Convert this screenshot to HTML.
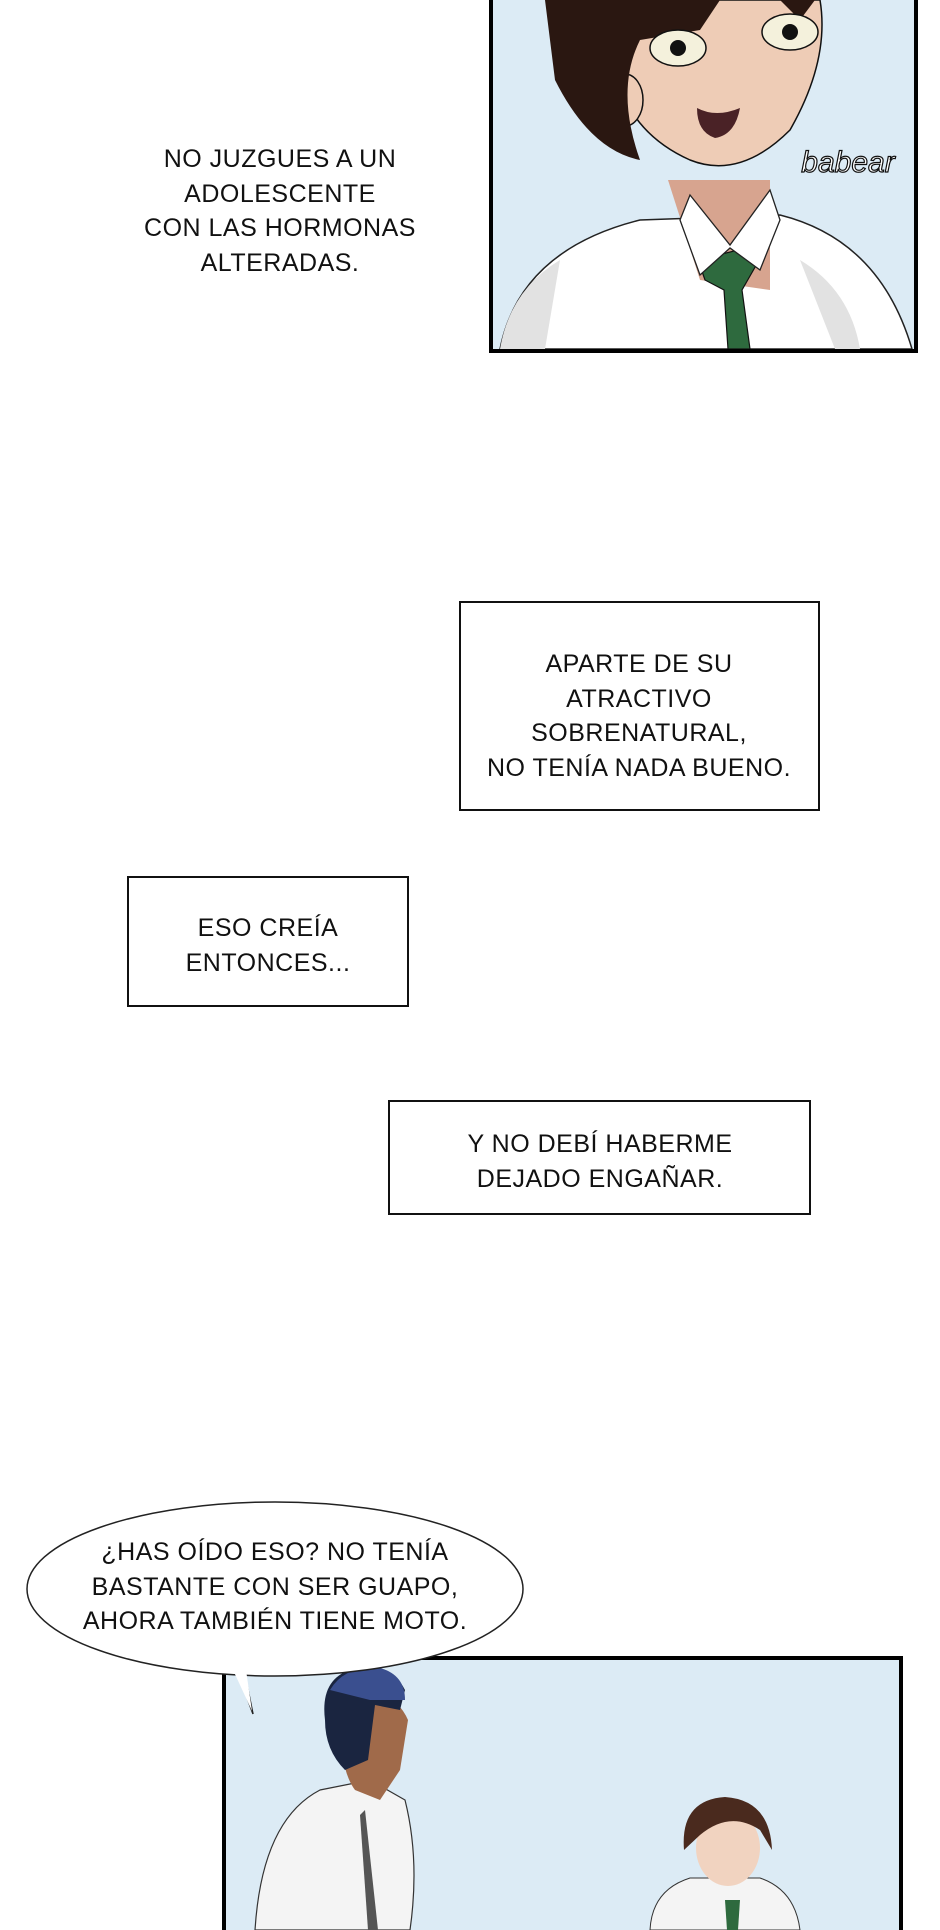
<!DOCTYPE html>
<html><head><meta charset="utf-8"><style>
html,body{margin:0;padding:0;background:#fff;}
body{width:940px;height:1930px;position:relative;overflow:hidden;font-family:"Liberation Sans Narrow","Liberation Sans",sans-serif;}
.t{position:absolute;text-align:center;font-size:25px;line-height:34.5px;color:#111;letter-spacing:0.5px;transform:translateX(-50%);white-space:nowrap;}
.box{position:absolute;border:2.5px solid #111;background:#fff;box-sizing:border-box;}
</style></head><body>

<svg width="940" height="1930" style="position:absolute;left:0;top:0">
  <!-- top panel -->
  <rect x="491" y="-5" width="425" height="356" fill="#dcebf5" stroke="#000" stroke-width="4"/>
  <g clip-path="url(#c1)">
    <clipPath id="c1"><rect x="493" y="0" width="421" height="349"/></clipPath>
    <path d="M500 349 Q520 250 640 220 L780 215 Q880 240 912 349 Z" fill="#fff" stroke="#222" stroke-width="1.5"/>
    <path d="M500 349 Q510 290 560 260 L545 349Z" fill="#e2e2e2"/>
    <path d="M860 349 Q850 290 800 260 L835 349Z" fill="#e2e2e2"/>
    <path d="M668 180 L770 180 L770 290 L700 280 Z" fill="#d7a48f"/>
    <path d="M610 0 Q600 120 690 160 Q740 180 790 130 Q830 60 820 0 Z" fill="#eeccb6" stroke="#111" stroke-width="1.5"/>
    <ellipse cx="625" cy="100" rx="18" ry="26" fill="#eeccb6" stroke="#111" stroke-width="1.5"/>
    <path d="M545 0 L555 80 Q590 150 640 160 Q615 90 640 40 L700 30 L720 0 Z" fill="#2a1711"/>
    <path d="M780 0 L800 20 L815 0 Z" fill="#2a1711"/>
    <ellipse cx="678" cy="48" rx="28" ry="18" fill="#f4f1dc" stroke="#111" stroke-width="1.5"/>
    <ellipse cx="790" cy="32" rx="28" ry="18" fill="#f4f1dc" stroke="#111" stroke-width="1.5"/>
    <circle cx="678" cy="48" r="8" fill="#111"/><circle cx="790" cy="32" r="8" fill="#111"/>
    <path d="M697 108 Q716 118 740 108 Q735 135 715 138 Q697 132 697 108Z" fill="#4a2226"/>
    <path d="M698 260 L738 250 L758 262 L742 290 L750 349 L728 349 L724 290 L705 280Z" fill="#2e6a3e" stroke="#111" stroke-width="1.2"/>
    <path d="M680 220 L700 275 L730 248 L760 270 L780 220 L770 190 L730 245 L690 195Z" fill="#fff" stroke="#222" stroke-width="1.3"/>
  </g>
  <text x="848" y="172" font-family="Liberation Sans" font-style="italic" font-size="30" fill="#fff" stroke="#111" stroke-width="1.2" text-anchor="middle">babear</text>

  <!-- bottom panel -->
  <rect x="224" y="1658" width="677" height="290" fill="#dcebf5" stroke="#000" stroke-width="4"/>
  <path d="M255 1930 Q262 1820 320 1790 L370 1780 L405 1800 Q420 1860 410 1930Z" fill="#f4f4f4" stroke="#333" stroke-width="1.2"/>
  <path d="M365 1810 L378 1930 L368 1930 L360 1815Z" fill="#555"/>
  <path d="M340 1720 Q340 1770 355 1790 L380 1800 L400 1770 L408 1720 Q395 1690 360 1695Z" fill="#a06a4a"/>
  <path d="M325 1720 Q320 1680 350 1670 Q390 1660 405 1690 L400 1710 L375 1705 L368 1760 L345 1770 Q325 1750 325 1720Z" fill="#1a2540"/>
  <path d="M330 1690 Q345 1665 380 1668 Q405 1675 405 1700 L370 1700 Z" fill="#3a4f8f"/>
  <path d="M650 1930 Q652 1890 690 1878 L760 1878 Q795 1890 800 1930Z" fill="#f4f4f4" stroke="#333" stroke-width="1"/>
  <path d="M725 1900 L740 1900 L738 1930 L727 1930Z" fill="#2e6a3e"/>
  <ellipse cx="728" cy="1848" rx="32" ry="38" fill="#f1d3c0"/>
  <path d="M684 1850 Q680 1800 725 1797 Q770 1800 772 1850 L760 1830 Q730 1810 700 1835 Z" fill="#4a2a1e"/>

  <!-- speech bubble (over panel) -->
  <path d="M236 1668 L253 1714 L244 1670Z" fill="#fff" stroke="#222" stroke-width="1.5"/>
  <ellipse cx="275" cy="1589" rx="248" ry="87" fill="#fff" stroke="#222" stroke-width="1.5"/>
  <path d="M234 1672 L252 1711 L246 1670Z" fill="#fff"/>
</svg>

<div class="t" style="left:280px;top:142px;">NO JUZGUES A UN<br>ADOLESCENTE<br>CON LAS HORMONAS<br>ALTERADAS.</div>

<div class="box" style="left:459px;top:601px;width:361px;height:210px;"></div>
<div class="t" style="left:639px;top:647px;">APARTE DE SU<br>ATRACTIVO<br>SOBRENATURAL,<br>NO TENÍA NADA BUENO.</div>

<div class="box" style="left:127px;top:876px;width:282px;height:131px;"></div>
<div class="t" style="left:268px;top:911px;">ESO CREÍA<br>ENTONCES...</div>

<div class="box" style="left:388px;top:1100px;width:423px;height:115px;"></div>
<div class="t" style="left:600px;top:1127px;">Y NO DEBÍ HABERME<br>DEJADO ENGAÑAR.</div>

<div class="t" style="left:275px;top:1535px;">¿HAS OÍDO ESO? NO TENÍA<br>BASTANTE CON SER GUAPO,<br>AHORA TAMBIÉN TIENE MOTO.</div>

</body></html>
